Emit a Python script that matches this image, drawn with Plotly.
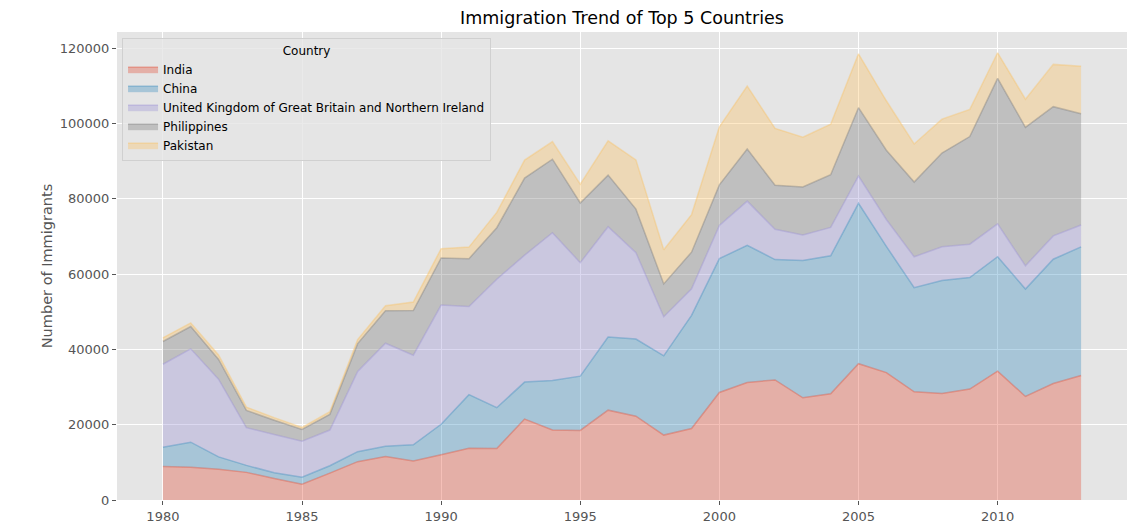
import plotly.graph_objects as go

years = list(range(1980, 2014))

india = [8880, 8670, 8147, 7338, 5704, 4211, 7150, 10189, 11522, 10343, 12041, 13734,
         13673, 21496, 18620, 18489, 23859, 22268, 17241, 18974, 28572, 31223, 31889,
         27155, 28235, 36210, 33848, 28742, 28261, 29456, 34235, 27509, 30933, 33087]
china = [5123, 6682, 3308, 1863, 1527, 1816, 1960, 2643, 2758, 4323, 8076, 14255,
         10846, 9817, 13128, 14398, 19415, 20475, 21049, 30069, 35529, 36434, 31961,
         36439, 36619, 42584, 33518, 27642, 30037, 29622, 30391, 28502, 33024, 34129]
uk = [22045, 24796, 20620, 10015, 10170, 9564, 9470, 21337, 27359, 23795, 31668, 23380,
      34123, 33720, 39231, 30145, 29322, 22965, 10367, 7045, 8840, 11728, 8046, 6797,
      7533, 7258, 7140, 8216, 8979, 8876, 8724, 6204, 6195, 5827]
philippines = [6051, 5921, 5249, 4562, 3801, 3150, 4166, 7360, 8639, 11865, 12509, 12718,
               13670, 20479, 19532, 15864, 13692, 11549, 8735, 9734, 10763, 13836, 11707,
               12758, 14004, 18139, 18400, 19837, 24887, 28573, 38617, 36765, 34315, 29544]
pakistan = [978, 972, 1201, 900, 668, 514, 691, 1072, 1334, 2261, 2470, 3079, 4071, 4777,
            4666, 4994, 9125, 13073, 9068, 9979, 15400, 16708, 15110, 13205, 13399, 14314,
            13127, 10124, 8994, 7217, 6811, 7468, 11227, 12603]

countries = ["India", "China", "United Kingdom of Great Britain and Northern Ireland",
             "Philippines", "Pakistan"]
series = [india, china, uk, philippines, pakistan]

# couleurs du style ggplot de matplotlib
colors = [(226, 74, 51), (52, 138, 189), (152, 142, 213), (119, 119, 119), (251, 193, 94)]

fig = go.Figure()
for name, vals, (r, g, b) in zip(countries, series, colors):
    fig.add_trace(go.Scatter(
        x=years,
        y=vals,
        name=name,
        mode='lines',
        stackgroup='one',
        line=dict(color=f'rgba({r},{g},{b},0.38)', width=1.5),
        fillcolor=f'rgba({r},{g},{b},0.35)',
    ))

# la page a une marge de 8px (body), on compense ici
fig.update_layout(
    width=1142,
    height=522,
    paper_bgcolor='white',
    plot_bgcolor='#E5E5E5',
    margin=dict(l=109, r=23, t=24, b=30, autoexpand=False),
    font=dict(family='DejaVu Sans', size=13, color='#555555'),
    title=dict(text='Immigration Trend of Top 5 Countries', xref='paper', x=0.5, xanchor='center',
               yref='container', y=0.981, yanchor='middle', font=dict(size=17.5, color='black')),
    showlegend=True,
    legend=dict(
        x=0.005, y=0.987, xanchor='left', yanchor='top',
        bgcolor='rgba(229,229,229,0.8)',
        bordercolor='#D0D0D0', borderwidth=1,
        font=dict(size=12, color='black'),
        title=dict(text='Country', side='top center', font=dict(size=12, color='black')),
        tracegroupgap=0,
        traceorder='normal',
    ),
    xaxis=dict(
        range=[1978.35, 2014.65],
        tickvals=[1980, 1985, 1990, 1995, 2000, 2005, 2010],
        showgrid=True, gridcolor='white', gridwidth=1,
        zeroline=False, automargin=False,
        ticks='outside', ticklen=4, tickcolor='#555555',
        showline=False,
    ),
    yaxis=dict(
        range=[0, 124300],
        tickvals=[0, 20000, 40000, 60000, 80000, 100000, 120000],
        tickformat='d',
        title=dict(text='Number of Immigrants', font=dict(size=14.5, color='#555555'), standoff=3),
        showgrid=True, gridcolor='white', gridwidth=1,
        zeroline=False, automargin=False,
        ticks='outside', ticklen=4, tickcolor='#555555',
        showline=False,
    ),
)

fig.write_html("out.html")
